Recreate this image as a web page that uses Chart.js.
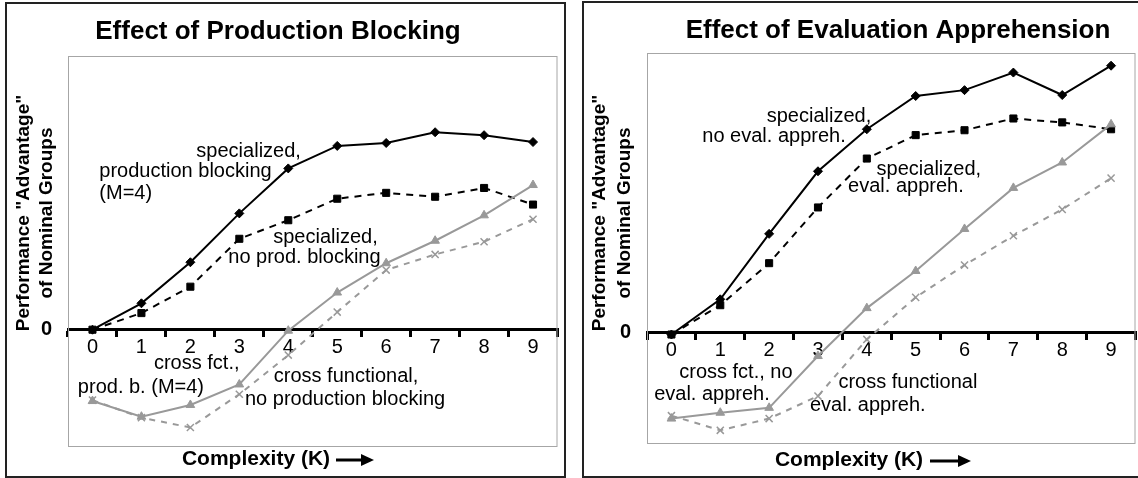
<!DOCTYPE html>
<html>
<head>
<meta charset="utf-8">
<script src="https://cdn.jsdelivr.net/npm/chart.js@4.4.0/dist/chart.umd.min.js"></script>
<style>
  html, body { margin: 0; background: #fff; }
  .box { position: absolute; box-sizing: border-box; border: 2px solid #222; background: #fff; }
  #boxA { left: 5px; top: 2px; width: 561px; height: 476px; }
  #boxB { left: 582px; top: 1px; width: 562px; height: 477px; }
  canvas { display: block; }
</style>
</head>
<body>
<div class="box" id="boxA"><canvas id="chartA"></canvas></div>
<div class="box" id="boxB"><canvas id="chartB"></canvas></div>
<script>
const complexity = ['0', '1', '2', '3', '4', '5', '6', '7', '8', '9'];

// Effect of Production Blocking
const pbSpecBlock = [0, 2.7, 6.9, 11.9, 16.5, 18.8, 19.1, 20.2, 19.9, 19.2];
const pbSpecNoBlock = [0, 1.7, 4.4, 9.3, 11.2, 13.4, 14.0, 13.6, 14.5, 12.8];
const pbCrossBlock = [-7.3, -8.9, -7.7, -5.6, -0.1, 3.8, 6.8, 9.1, 11.7, 14.8];
const pbCrossNoBlock = [-7.2, -9.0, -10.0, -6.6, -2.6, 1.8, 6.1, 7.7, 9.0, 11.3];

// Effect of Evaluation Apprehension
const eaSpecNoAppr = [-0.2, 3.4, 10.1, 16.5, 20.8, 24.2, 24.8, 26.6, 24.3, 27.3];
const eaSpecAppr = [-0.2, 2.8, 7.1, 12.8, 17.8, 20.2, 20.7, 21.9, 21.5, 20.8];
const eaCrossNoAppr = [-8.8, -8.2, -7.7, -2.4, 2.5, 6.3, 10.6, 14.8, 17.4, 21.3];
const eaCrossAppr = [-8.5, -10.0, -8.8, -6.5, -0.7, 3.6, 6.9, 9.9, 12.6, 15.8];

// line labels, placed in data units (category index, value)
const pbNotes = [
  ['specialized,', 3.19, 18.2],
  ['production blocking', 1.90, 16.2],
  ['(M=4)', 0.68, 13.9],
  ['specialized,', 4.76, 9.4],
  ['no prod. blocking', 4.33, 7.4],
  ['cross fct.,', 2.13, -3.5],
  ['prod. b. (M=4)', 0.99, -5.9],
  ['cross functional,', 5.18, -4.8],
  ['no production blocking', 5.16, -7.1]
];
const eaNotes = [
  ['specialized,', 3.02, 22.1],
  ['no eval. appreh.', 2.10, 20.1],
  ['specialized,', 5.27, 16.7],
  ['eval. appreh.', 4.80, 14.9],
  ['cross fct., no', 1.32, -4.1],
  ['eval. appreh.', 0.83, -6.3],
  ['cross functional', 4.84, -5.1],
  ['eval. appreh.', 4.02, -7.5]
];
const yTitle = ['Performance "Advantage"', 'of Nominal Groups'];
const xTitle = 'Complexity (K)';

const FONT = "'Liberation Sans', Arial, sans-serif";
const GRAY = '#999999';

const framePlugin = {
  id: 'frameAndText',
  beforeDatasetsDraw(chart) {
    const a = chart.chartArea, ctx = chart.ctx;
    ctx.save();
    ctx.strokeStyle = '#a6a6a6';
    ctx.lineWidth = 1;
    ctx.strokeRect(a.left + 0.5, a.top + 0.5, a.right - a.left - 1, a.bottom - a.top - 1);
    ctx.restore();
  },
  afterDatasetsDraw(chart, args, opts) {
    const ctx = chart.ctx, xs = chart.scales.x, ys = chart.scales.y;
    ctx.save();
    ctx.fillStyle = '#000';
    ctx.font = '20px ' + FONT;
    ctx.textAlign = 'center';
    ctx.textBaseline = 'middle';
    opts.notes.forEach(n => {
      ctx.fillText(n[0], xs.getPixelForValue(n[1]), ys.getPixelForValue(n[2]));
    });
    ctx.restore();
  },
  afterDraw(chart, args, opts) {
    const ctx = chart.ctx;
    ctx.save();
    ctx.fillStyle = '#000';
    ctx.strokeStyle = '#000';
    ctx.textAlign = 'center';
    ctx.textBaseline = 'middle';

    // chart title
    ctx.font = 'bold 26px ' + FONT;
    ctx.fillText(opts.title, opts.titlePos[0], opts.titlePos[1]);

    // x axis caption with arrow
    ctx.font = 'bold 21px ' + FONT;
    ctx.fillText(xTitle, opts.xTitlePos[0], opts.xTitlePos[1]);
    const [a0, a1] = opts.arrow, ay = opts.xTitlePos[1] + 1;
    ctx.lineWidth = 3;
    ctx.beginPath();
    ctx.moveTo(a0, ay);
    ctx.lineTo(a1 - 8, ay);
    ctx.stroke();
    ctx.beginPath();
    ctx.moveTo(a1, ay);
    ctx.lineTo(a1 - 13, ay - 6);
    ctx.lineTo(a1 - 13, ay + 6);
    ctx.closePath();
    ctx.fill();

    // y axis title
    ctx.font = 'bold 19px ' + FONT;
    yTitle.forEach((t, i) => {
      ctx.save();
      ctx.translate(opts.yTitleX[i], opts.yTitleY);
      ctx.rotate(-Math.PI / 2);
      ctx.fillText(t, 0, 0);
      ctx.restore();
    });
    ctx.restore();
  }
};

function makeChart(id, cfg) {
  const ds = (data, color, style, radius, dash) => ({
    data: data,
    borderColor: color,
    backgroundColor: color,
    borderWidth: 2,
    borderDash: dash,
    pointStyle: style,
    pointRadius: radius,
    pointBorderWidth: style === 'crossRot' ? 1.5 : 1,
    tension: 0
  });
  return new Chart(document.getElementById(id), {
    type: 'line',
    data: {
      labels: complexity,
      datasets: [
        ds(cfg.series[3], GRAY, 'crossRot', 5, [6, 6]),
        ds(cfg.series[2], GRAY, 'triangle', 5, []),
        ds(cfg.series[1], '#000', 'rect', 5, [7, 6]),
        ds(cfg.series[0], '#000', 'rectRot', 4.5, [])
      ]
    },
    options: {
      responsive: true,
      maintainAspectRatio: false,
      animation: false,
      layout: { padding: cfg.padding },
      plugins: {
        legend: { display: false },
        tooltip: { enabled: false },
        title: { display: false },
        frameAndText: cfg.text
      },
      scales: {
        x: {
          position: { y: 0 },
          offset: true,
          grid: { offset: true, drawOnChartArea: false, drawTicks: true, tickLength: 6, lineWidth: 3, color: '#000' },
          border: { display: true, width: 3, color: '#000' },
          ticks: { color: '#000', font: { family: FONT, size: 20 }, padding: 0 }
        },
        y: {
          min: cfg.yMin,
          max: cfg.yMax,
          afterBuildTicks: s => { s.ticks = [{ value: 0 }]; },
          afterFit: s => { s.width = cfg.axisWidth; },
          grid: { display: false },
          border: { display: false },
          ticks: { color: '#000', font: { family: FONT, size: 20, weight: 'bold' }, padding: cfg.zeroPad }
        }
      }
    },
    plugins: [framePlugin]
  });
}

makeChart('chartA', {
  series: [pbSpecBlock, pbSpecNoBlock, pbCrossBlock, pbCrossNoBlock],
  yMin: -12, yMax: 28,
  padding: { left: 0, right: 5, top: 52, bottom: 29 },
  axisWidth: 61,
  zeroPad: 8,
  text: {
    title: 'Effect of Production Blocking',
    titlePos: [271, 28],
    xTitlePos: [249, 455],
    arrow: [329, 367],
    yTitleX: [17, 40],
    yTitleY: 209,
    notes: pbNotes
  }
});

makeChart('chartB', {
  series: [eaSpecNoAppr, eaSpecAppr, eaCrossNoAppr, eaCrossAppr],
  yMin: -11.4, yMax: 28.6,
  padding: { left: 0, right: 6, top: 50, bottom: 32 },
  axisWidth: 63,
  zeroPad: 8,
  text: {
    title: 'Effect of Evaluation Apprehension',
    titlePos: [314, 28],
    xTitlePos: [265, 457],
    arrow: [346, 387],
    yTitleX: [16, 41],
    yTitleY: 210,
    notes: eaNotes
  }
});
</script>
</body>
</html>
